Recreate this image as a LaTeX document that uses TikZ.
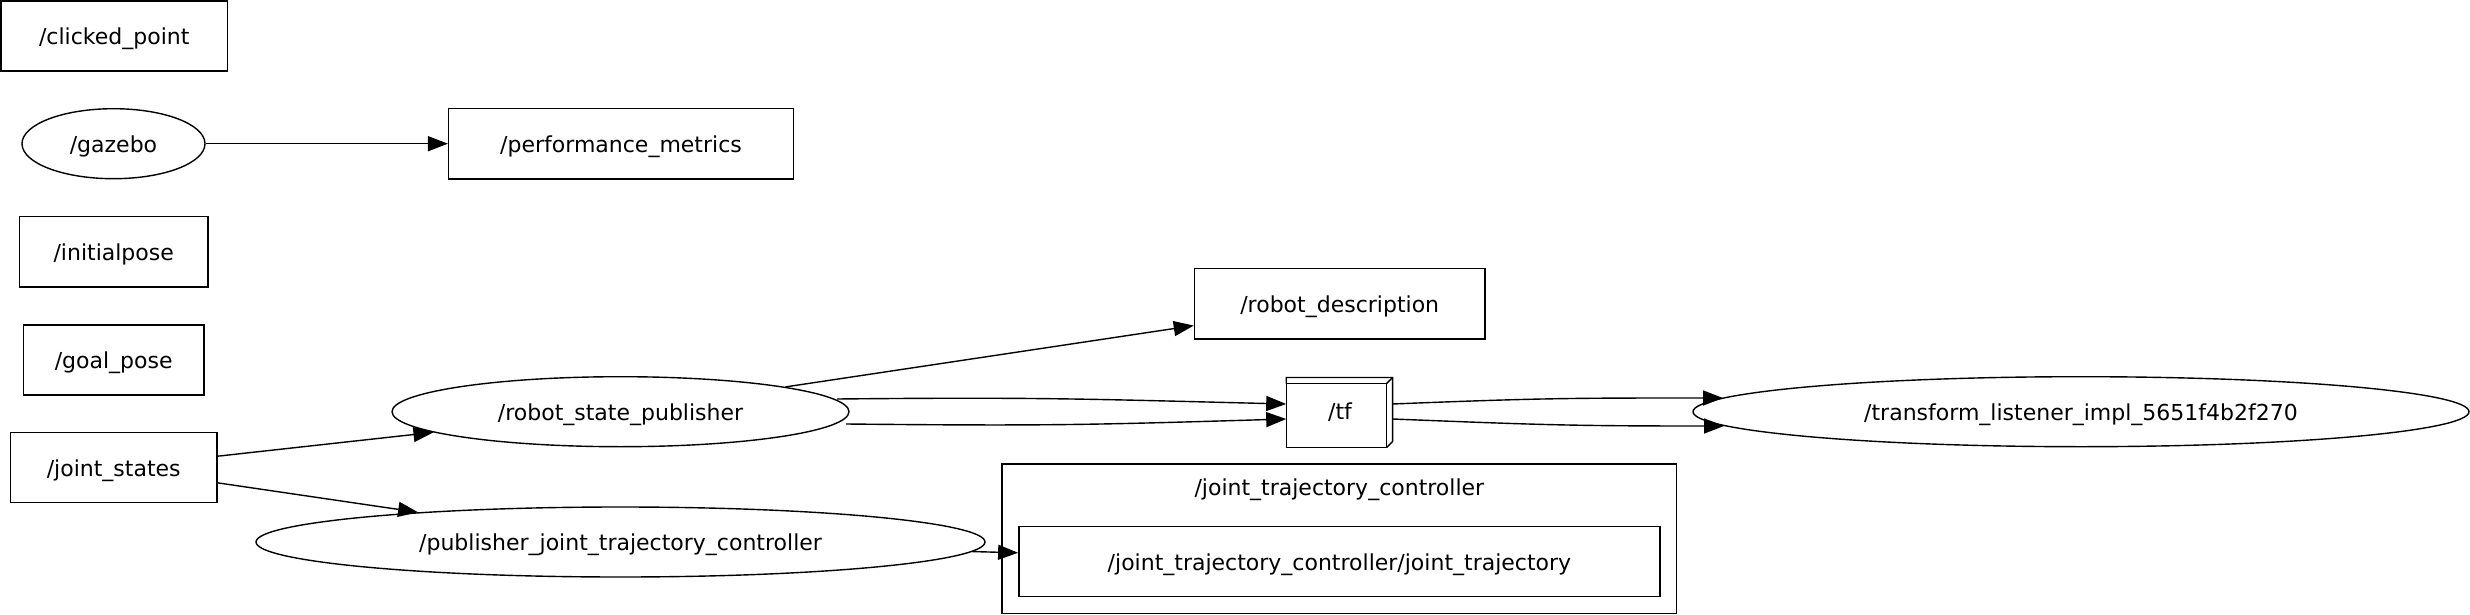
\documentclass[tikz,border=0pt]{standalone}
\usepackage{fontspec}
\setmainfont{DejaVu Sans}
\usetikzlibrary{shapes.geometric,arrows.meta,calc}
\begin{document}
\begin{tikzpicture}[x=1pt,y=-1pt,
  lw/.style={line width=1.4pt},
  txt/.style={font=\fontsize{22}{26}\selectfont,text height=20pt,text depth=2.5pt},
  topic/.style={draw,lw,rectangle,inner sep=0pt,txt},
  nodeell/.style={draw,lw,ellipse,inner sep=0pt,txt},
  lbl/.style={inner sep=0pt,txt},
  edge/.style={lw,-{Triangle[length=20pt,width=15pt]}}
]
\useasboundingbox (0,0) rectangle (2470,615);
% topics
\node[topic,minimum width=226.5pt,minimum height=70.2pt] (clicked) at (114.2,36.1) {/clicked\_point};
\node[nodeell,minimum width=183pt,minimum height=70pt] (gazebo) at (113.5,143.7) {/gazebo};
\node[topic,minimum width=344.7pt,minimum height=70.2pt] (perf) at (621,143.7) {/performance\_metrics};
\node[topic,minimum width=188.6pt,minimum height=70.2pt] (initpose) at (113.7,251.8) {/initialpose};
\node[topic,minimum width=180.5pt,minimum height=70.2pt] (goal) at (113.7,359.9) {/goal\_pose};
\node[topic,minimum width=206.5pt,minimum height=70.2pt] (js) at (113.7,467.6) {/joint\_states};
\node[nodeell,minimum width=457pt,minimum height=70pt] (rsp) at (620.5,411.7) {/robot\_state\_publisher};
\node[nodeell,minimum width=729pt,minimum height=70pt] (pjtc) at (620.5,542) {/publisher\_joint\_trajectory\_controller};
\node[topic,minimum width=290.5pt,minimum height=70.2pt] (rd) at (1339.7,303.7) {/robot\_description};
\node[nodeell,minimum width=776pt,minimum height=70pt] (tl) at (2081,411.7) {/transform\_listener\_impl\_5651f4b2f270};
% tf box3d
\node[inner sep=0pt,minimum width=106pt,minimum height=69.6pt] (tf) at (1339.4,412.5) {};
\draw[lw] ($(tf.north west)+(0,6)$) rectangle ($(tf.south east)+(-6,0)$);
\draw[lw] ($(tf.north west)+(0,6)$) -- (tf.north west) -- (tf.north east) -- ($(tf.south east)+(0,-6)$) -- ($(tf.south east)+(-6,0)$);
\draw[lw] ($(tf.north east)+(-6,6)$) -- (tf.north east);
\node[lbl] (tflbl) at ($(tf.center)+(0.6,-1.9)$) {/tf};
% cluster
\node[draw,lw,inner sep=0pt,minimum width=674.7pt,minimum height=149.3pt] (cluster) at (1339.35,538.65) {};
\node[lbl] (clusterlbl) at (1339.35,487) {/joint\_trajectory\_controller};
\node[topic,minimum width=641.2pt,minimum height=70.4pt] (inner) at (1339.4,561.5) {/joint\_trajectory\_controller/joint\_trajectory};
% edges
\draw[edge] (gazebo) -- (perf);
\draw[edge] (js) -- (rsp);
\draw[edge] (js) -- (pjtc);
\draw[edge] (rsp) -- (rd);
\draw[edge] (pjtc) -- (inner);
\coordinate (rspout1) at ($(rsp.center)+(216.5,-12.7)$);
\coordinate (rspout2) at ($(rsp.center)+(225.5,12.3)$);
\coordinate (tlin1) at ($(tl.center)+(-358,-13.7)$);
\coordinate (tlin2) at ($(tl.center)+(-357,14.3)$);
\coordinate (tfin1) at ($(tf.west)+(0,-8.5)$);
\coordinate (tfin2) at ($(tf.west)+(0,6.5)$);
\coordinate (tfout1) at ($(tf.east)+(0,-8.5)$);
\coordinate (tfout2) at ($(tf.east)+(0,6.5)$);
\draw[edge] (rspout1) .. controls +(200,-2) and +(-200,-5) .. (tfin1);
\draw[edge] (rspout2) .. controls +(200,2) and +(-200,6) .. (tfin2);
\draw[edge] (tfout1) .. controls +(150,-6) and +(-150,0) .. (tlin1);
\draw[edge] (tfout2) .. controls +(150,6) and +(-150,0) .. (tlin2);
\end{tikzpicture}
\end{document}
